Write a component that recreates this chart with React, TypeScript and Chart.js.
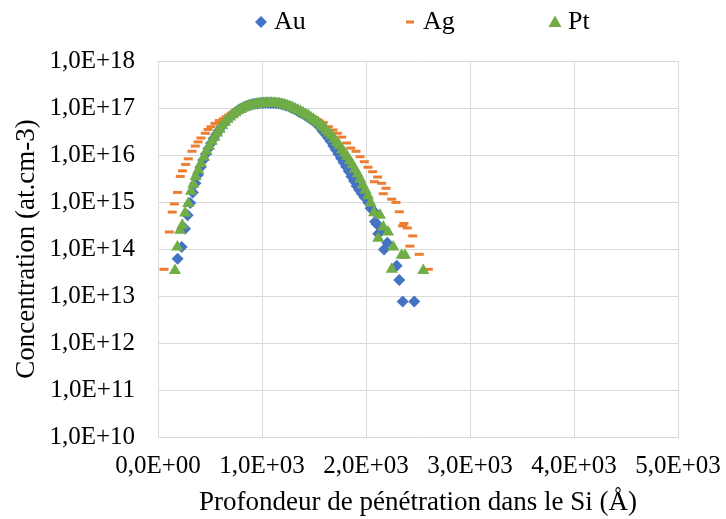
import React, { useEffect, useRef } from 'react';
import { Chart, registerables } from 'chart.js';

Chart.register(...registerables);

// ---------- data ----------
const SERIES_NAMES = ['Au', 'Ag', 'Pt'];

const AU_X = [189, 228, 260, 285, 310, 335, 360, 385, 410, 435, 460, 485, 510, 535, 560, 585, 610, 635, 660, 685, 710, 735, 760, 785, 810, 835, 860, 885, 910, 935, 960, 985, 1010, 1035, 1060, 1085, 1110, 1135, 1160, 1185, 1210, 1235, 1260, 1285, 1310, 1335, 1360, 1385, 1410, 1435, 1460, 1485, 1510, 1535, 1560, 1585, 1610, 1635, 1660, 1685, 1710, 1735, 1760, 1785, 1810, 1835, 1860, 1885, 1910, 1935, 1960, 1985, 2022, 2045, 2070, 2087, 2103, 2118, 2151, 2173, 2205, 2295, 2320, 2353, 2464];
const AU_Y = [6.2e13, 1.1e14, 2.7e14, 5.2e14, 9.5e14, 1.6e15, 2.5e15, 3.8e15, 5.5e15, 7.8e15, 1.05e16, 1.38e16, 1.78e16, 2.24e16, 2.75e16, 3.3e16, 4.0e16, 4.7e16, 5.5e16, 6.3e16, 7.1e16, 7.8e16, 8.5e16, 9.3e16, 1.0e17, 1.06e17, 1.11e17, 1.16e17, 1.2e17, 1.23e17, 1.25e17, 1.27e17, 1.28e17, 1.29e17, 1.29e17, 1.28e17, 1.27e17, 1.26e17, 1.24e17, 1.21e17, 1.17e17, 1.12e17, 1.07e17, 1.0e17, 9.5e16, 8.9e16, 8.1e16, 7.6e16, 7.1e16, 6.5e16, 6.0e16, 5.5e16, 4.9e16, 4.4e16, 3.8e16, 3.2e16, 2.75e16, 2.34e16, 1.95e16, 1.58e16, 1.29e16, 1.05e16, 8.5e15, 6.9e15, 5.6e15, 4.5e15, 3.5e15, 2.8e15, 2.2e15, 1.8e15, 1.5e15, 1.26e15, 9.8e14, 7.4e14, 6.5e14, 3.8e14, 3.4e14, 2.1e14, 2.5e14, 9.7e13, 1.35e14, 4.4e13, 2.2e13, 7.6e12, 7.6e12];

const AG_X = [58, 109, 137, 157, 188, 214, 236, 266, 291, 327, 359, 385, 413, 455, 481, 510, 548, 589, 628, 655, 680, 705, 730, 755, 780, 805, 830, 855, 880, 905, 930, 955, 980, 1005, 1030, 1055, 1080, 1105, 1130, 1155, 1180, 1205, 1230, 1255, 1280, 1305, 1330, 1355, 1380, 1405, 1430, 1455, 1480, 1505, 1530, 1555, 1589, 1637, 1683, 1724, 1766, 1814, 1853, 1904, 1942, 1984, 2019, 2064, 2112, 2080, 2151, 2192, 2166, 2247, 2288, 2320, 2365, 2353, 2397, 2449, 2423, 2512, 2599];
const AG_Y = [3.7e13, 2.3e14, 6.1e14, 9.1e14, 1.6e15, 3.5e15, 4.6e15, 6.3e15, 8.3e15, 1.2e16, 1.55e16, 1.9e16, 2.3e16, 2.9e16, 3.5e16, 4.0e16, 4.7e16, 5.4e16, 5.9e16, 6.5e16, 7.1e16, 7.8e16, 8.3e16, 8.9e16, 9.5e16, 1.0e17, 1.04e17, 1.07e17, 1.1e17, 1.12e17, 1.14e17, 1.16e17, 1.17e17, 1.18e17, 1.18e17, 1.18e17, 1.18e17, 1.17e17, 1.16e17, 1.15e17, 1.13e17, 1.11e17, 1.08e17, 1.05e17, 1.02e17, 9.8e16, 9.4e16, 9.0e16, 8.6e16, 8.1e16, 7.6e16, 7.1e16, 6.6e16, 6.2e16, 5.7e16, 5.3e16, 4.9e16, 4.0e16, 3.4e16, 2.9e16, 2.4e16, 1.8e16, 1.4e16, 1.2e16, 9.2e15, 7.2e15, 5.5e15, 4.4e15, 3.4e15, 2.7e15, 2.5e15, 1.96e15, 1.5e15, 1.15e15, 9.8e14, 6.2e14, 3.5e14, 3.1e14, 2.8e14, 1.9e14, 1.15e14, 7.7e13, 3.7e13];

const PT_X = [163, 186, 212, 234, 260, 291, 317, 340, 362, 388, 413, 442, 467, 492, 517, 542, 567, 592, 617, 644, 669, 694, 719, 744, 769, 794, 819, 844, 869, 894, 919, 944, 969, 994, 1019, 1044, 1069, 1094, 1119, 1144, 1169, 1194, 1219, 1244, 1269, 1294, 1319, 1344, 1369, 1394, 1419, 1444, 1469, 1494, 1519, 1544, 1569, 1594, 1619, 1644, 1669, 1694, 1719, 1744, 1769, 1794, 1819, 1844, 1869, 1894, 1919, 1944, 1969, 1994, 2019, 2044, 2077, 2118, 2135, 2166, 2212, 2247, 2262, 2343, 2375, 2551];
const PT_Y = [3.5e13, 1.1e14, 2.5e14, 3.2e14, 5.8e14, 9.3e14, 1.7e15, 2.4e15, 3.5e15, 4.8e15, 6.6e15, 9.1e15, 1.2e16, 1.55e16, 1.95e16, 2.4e16, 2.95e16, 3.55e16, 4.25e16, 5.0e16, 5.75e16, 6.45e16, 7.2e16, 7.9e16, 8.7e16, 9.3e16, 1.0e17, 1.05e17, 1.1e17, 1.15e17, 1.17e17, 1.2e17, 1.22e17, 1.24e17, 1.26e17, 1.27e17, 1.27e17, 1.27e17, 1.26e17, 1.25e17, 1.23e17, 1.2e17, 1.17e17, 1.12e17, 1.07e17, 1.02e17, 9.5e16, 9.1e16, 8.5e16, 7.9e16, 7.4e16, 6.9e16, 6.3e16, 5.75e16, 5.25e16, 4.8e16, 4.25e16, 3.8e16, 3.3e16, 2.95e16, 2.6e16, 2.2e16, 1.85e16, 1.6e16, 1.3e16, 1.1e16, 9.3e15, 7.6e15, 6.2e15, 5.0e15, 4.0e15, 3.1e15, 2.3e15, 1.8e15, 1.35e15, 9.5e14, 5.9e14, 1.7e14, 5.2e14, 2.95e14, 2.3e14, 3.7e13, 1.1e14, 7.4e13, 7.4e13, 3.5e13];

const X_TICKS = [0, 1000, 2000, 3000, 4000, 5000];
const Y_TICKS = [1e10, 1e11, 1e12, 1e13, 1e14, 1e15, 1e16, 1e17, 1e18];

const X_TITLE = 'Profondeur de pénétration dans le Si (Å)';
const Y_TITLE = 'Concentration (at.cm-3)';

// ---------- style ----------
const FONT = "'Liberation Serif', 'Times New Roman', serif";
const COLORS = ['#4472C4', '#ED7D31', '#70AD47'];
const GRID = '#D9D9D9';
const LEGEND_X = [261, 410, 555];
const LEGEND_Y = 22;

function fmtSci(v: number): string {
  if (v === 0) return '0,0E+00';
  let e = Math.floor(Math.log10(Math.abs(v)) + 1e-9);
  let m = v / Math.pow(10, e);
  if (Math.abs(m) >= 9.95) {
    m /= 10;
    e += 1;
  }
  const sign = e < 0 ? '-' : '+';
  return `${m.toFixed(1).replace('.', ',')}E${sign}${String(Math.abs(e)).padStart(2, '0')}`;
}

function pts(xs: number[], ys: number[]) {
  return xs.map((x, i) => ({ x, y: ys[i] }));
}

function drawMarker(ctx: CanvasRenderingContext2D, kind: number, cx: number, cy: number, color: string) {
  ctx.fillStyle = color;
  ctx.beginPath();
  if (kind === 0) {
    ctx.moveTo(cx - 6, cy);
    ctx.lineTo(cx, cy - 6);
    ctx.lineTo(cx + 6, cy);
    ctx.lineTo(cx, cy + 6);
    ctx.closePath();
    ctx.fill();
  } else if (kind === 1) {
    ctx.fillRect(cx - 4, cy - 1.5, 8, 3);
  } else {
    ctx.moveTo(cx, cy - 6.5);
    ctx.lineTo(cx + 6.5, cy + 5);
    ctx.lineTo(cx - 6.5, cy + 5);
    ctx.closePath();
    ctx.fill();
  }
}

const legendPlugin = {
  id: 'customLegend',
  afterDraw(chart: any) {
    const ctx: CanvasRenderingContext2D = chart.ctx;
    ctx.save();
    ctx.font = `26px ${FONT}`;
    ctx.textBaseline = 'middle';
    ctx.textAlign = 'left';
    SERIES_NAMES.forEach((name, i) => {
      drawMarker(ctx, i, LEGEND_X[i], LEGEND_Y, COLORS[i]);
      ctx.fillStyle = '#000';
      ctx.fillText(name, LEGEND_X[i] + 13, LEGEND_Y);
    });
    ctx.restore();
  },
};

export default function App() {
  const ref = useRef<HTMLCanvasElement>(null);

  useEffect(() => {
    if (!ref.current) return;
    const tickFont = { family: FONT, size: 25 };
    const titleFont = { family: FONT, size: 27 };
    const chart = new Chart(ref.current, {
      type: 'scatter',
      data: {
        datasets: [
          {
            label: SERIES_NAMES[0],
            data: pts(AU_X, AU_Y),
            pointStyle: 'rectRot',
            pointRadius: 6,
            pointBorderWidth: 0,
            backgroundColor: COLORS[0],
            borderColor: COLORS[0],
            order: 3,
          },
          {
            label: SERIES_NAMES[1],
            data: pts(AG_X, AG_Y),
            pointStyle: 'line',
            pointRadius: 4.5,
            pointBorderWidth: 3,
            backgroundColor: COLORS[1],
            borderColor: COLORS[1],
            order: 2,
          },
          {
            label: SERIES_NAMES[2],
            data: pts(PT_X, PT_Y),
            pointStyle: 'triangle',
            pointRadius: 7,
            pointBorderWidth: 0,
            backgroundColor: COLORS[2],
            borderColor: COLORS[2],
            order: 1,
          },
        ],
      },
      options: {
        animation: false,
        responsive: false,
        layout: { padding: { left: 0, right: 48, top: 61, bottom: 0 } },
        plugins: {
          legend: { display: false },
          tooltip: { enabled: false },
        },
        scales: {
          x: {
            type: 'linear',
            min: 0,
            max: 5000,
            afterBuildTicks: (s: any) => {
              s.ticks = X_TICKS.map((v) => ({ value: v }));
            },
            afterFit: (s: any) => {
              s.height = 82;
              s.paddingLeft = 0;
              s.paddingRight = 0;
            },
            grid: { color: GRID, lineWidth: 1, drawTicks: false },
            border: { color: GRID },
            ticks: {
              callback: (v: any) => fmtSci(Number(v)),
              font: tickFont,
              color: '#000',
              padding: 14,
              maxRotation: 0,
              autoSkip: false,
            },
            title: {
              display: true,
              text: X_TITLE,
              font: titleFont,
              color: '#000',
              padding: { top: 0, bottom: 0 },
            },
          },
          y: {
            type: 'logarithmic',
            min: 1e10,
            max: 1e18,
            afterBuildTicks: (s: any) => {
              s.ticks = Y_TICKS.map((v) => ({ value: v }));
            },
            afterFit: (s: any) => {
              s.width = 158;
              s.paddingTop = 0;
              s.paddingBottom = 0;
            },
            grid: { color: GRID, lineWidth: 1, drawTicks: false },
            border: { color: GRID },
            ticks: {
              callback: (v: any) => fmtSci(Number(v)),
              font: tickFont,
              color: '#000',
              padding: 23,
              autoSkip: false,
            },
            title: {
              display: true,
              text: Y_TITLE,
              font: titleFont,
              color: '#000',
              padding: { top: 11, bottom: 0 },
            },
          },
        },
      } as any,
      plugins: [legendPlugin],
    });
    return () => chart.destroy();
  }, []);

  return (
    <div style={{ position: 'absolute', left: 0, top: 0, width: 726, height: 519, background: '#fff' }}>
      <canvas ref={ref} width={726} height={519} style={{ display: 'block', width: 726, height: 519 }} />
    </div>
  );
}
